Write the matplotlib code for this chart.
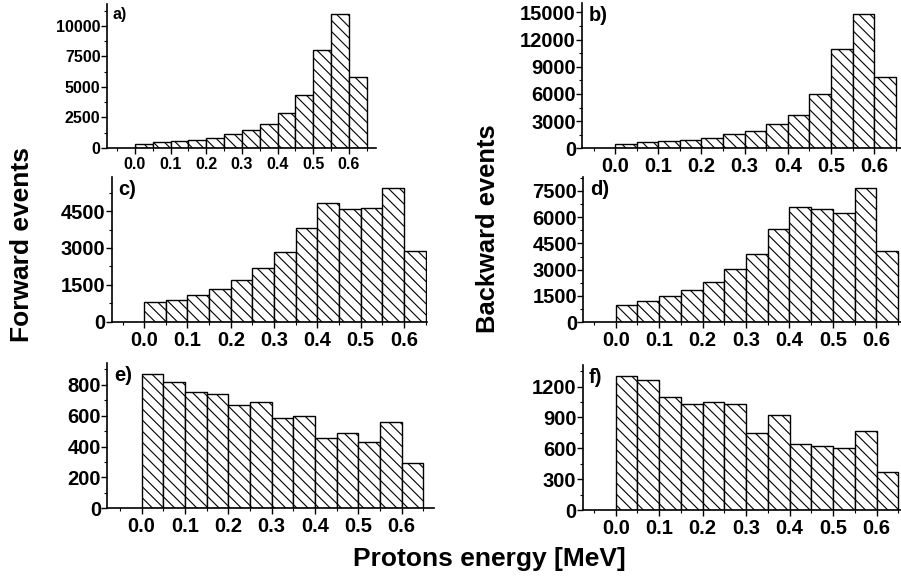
import numpy as np
import matplotlib
matplotlib.use("Agg")
from matplotlib import pyplot as plt
from matplotlib.ticker import MultipleLocator, FormatStrFormatter

plt.rcParams['font.family'] = ['Liberation Sans', 'DejaVu Sans']
plt.rcParams['font.weight'] = 'bold'
plt.rcParams['hatch.linewidth'] = 0.8

# left edges of the energy bins [MeV], bin width 0.05
bin_left = [0.0, 0.05, 0.1, 0.15, 0.2, 0.25, 0.3, 0.35, 0.4, 0.45, 0.5, 0.55, 0.6]
bin_width = 0.05

fwd_a = [360, 490, 575, 660, 820, 1120, 1480, 2000, 2880, 4360, 8000, 11010, 5840]
bwd_b = [480, 660, 850, 920, 1180, 1540, 1950, 2680, 3710, 5960, 10960, 14780, 7900]
fwd_c = [790, 870, 1080, 1330, 1690, 2180, 2820, 3830, 4810, 4570, 4610, 5460, 2860]
bwd_d = [1010, 1230, 1480, 1840, 2280, 3040, 3870, 5300, 6590, 6470, 6210, 7670, 4040]
fwd_e = [869, 822, 757, 741, 672, 692, 584, 597, 458, 486, 432, 558, 292]
bwd_f = [1307, 1268, 1100, 1028, 1054, 1028, 752, 921, 639, 623, 607, 772, 373]

W, H = 901, 578
fig = plt.figure(figsize=(W / 100, H / 100), dpi=100)

# (label, data, [left, bottom, width, height] in px, xlim, ytop, major, minor, fontsize)
panels = [
    ('a)', fwd_a, (107, 148, 269, 144), (-0.0785, 0.676), 11800, 2500, 1250, 11.5),
    ('b)', bwd_b, (582.3, 148.3, 320, 145), (-0.076, 0.665), 16000, 3000, 1500, 14.5),
    ('c)', fwd_c, (111.7, 321.7, 315.3, 145), (-0.075, 0.653), 5900, 1500, 750, 14.5),
    ('d)', bwd_d, (583.3, 322.3, 319, 145.6), (-0.0748, 0.66), 8300, 1500, 750, 14.5),
    ('e)', fwd_e, (107.3, 508.3, 326.7, 145), (-0.079, 0.675), 940, 200, 100, 14.5),
    ('f)', bwd_f, (582.7, 510, 320, 145), (-0.076, 0.66), 1410, 300, 150, 14.5),
]

for lab, vals, (l, b, w, h), xl, ytop, maj, mnr, fs in panels:
    ax = fig.add_axes([l / W, 1 - b / H, w / W, h / H])
    ax.bar(bin_left, vals, width=bin_width, align='edge', color='white',
           edgecolor='black', linewidth=1.0, hatch='\\\\\\')
    ax.set_xlim(*xl)
    ax.set_ylim(0, ytop)
    for s in ['top', 'right']:
        ax.spines[s].set_visible(False)
    for s in ['left', 'bottom']:
        ax.spines[s].set_linewidth(1.2)
    ax.xaxis.set_major_locator(MultipleLocator(0.1))
    ax.xaxis.set_minor_locator(MultipleLocator(0.05))
    ax.xaxis.set_major_formatter(FormatStrFormatter('%.1f'))
    ax.yaxis.set_major_locator(MultipleLocator(maj))
    ax.yaxis.set_minor_locator(MultipleLocator(mnr))
    ax.tick_params(axis='x', which='major', length=4, width=1.0, labelsize=fs, pad=2.5)
    ax.tick_params(axis='y', which='major', length=4.3, width=1.0, labelsize=fs, pad=0.3)
    ax.tick_params(which='minor', length=2.2, width=0.8)
    for t in ax.get_xticklabels() + ax.get_yticklabels():
        t.set_fontweight('bold')
    ax.text(0.02, 0.98, lab, transform=ax.transAxes, fontsize=fs,
            fontweight='bold', va='top', ha='left')

fig.text(22 / W, 1 - 244 / H, 'Forward events', rotation=90, fontsize=19,
         fontweight='bold', ha='center', va='center')
fig.text(488 / W, 1 - 229 / H, 'Backward events', rotation=90, fontsize=18.4,
         fontweight='bold', ha='center', va='center')
fig.text(489 / W, 1 - 559 / H, 'Protons energy [MeV]', fontsize=19,
         fontweight='bold', ha='center', va='center')

fig.savefig('out.png', dpi=100)
